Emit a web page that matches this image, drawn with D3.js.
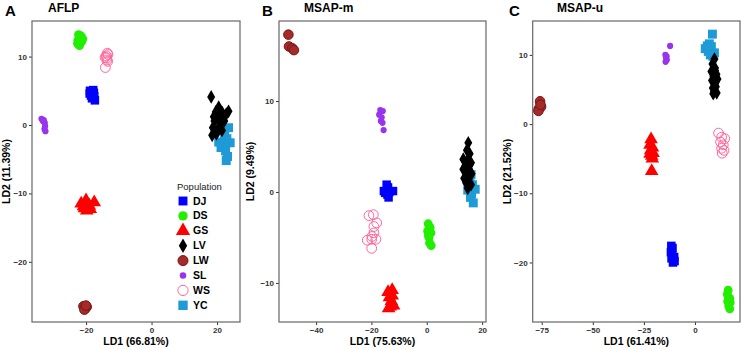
<!DOCTYPE html>
<html><head><meta charset="utf-8">
<script src="https://cdn.jsdelivr.net/npm/d3@7"></script>
<style>body{margin:0;background:#fff}svg{display:block}text{font-family:"Liberation Sans",Arial,sans-serif}</style>
</head><body><svg id="c" width="743" height="350"></svg>
<script>
// ---------- data ----------
const populations = ["DJ","DS","GS","LV","LW","SL","WS","YC"];
const panelLetters = ["A","B","C"];
const panelTitles = ["AFLP","MSAP-m","MSAP-u"];
const xTitles = ["LD1 (66.81%)","LD1 (75.63%)","LD1 (61.41%)"];
const yTitles = ["LD2 (11.39%)","LD2 (9.49%)","LD2 (21.52%)"];
const xTicksA = [-20,0,20], yTicksA = [-20,-10,0,10];
const xTicksB = [-40,-20,0,20], yTicksB = [-10,0,10];
const xTicksC = [-75,-50,-25,0], yTicksC = [-20,-10,0,10];

// AFLP
const aflpDJ = [[-18.8,5.0],[-17.8,5.1],[-18.5,4.3],[-17.5,4.2],[-17.3,3.6],[-18.2,3.9],[-17.6,4.7],[-18.9,4.6]];
const aflpDS = [[-22.3,13.2],[-21.5,13.0],[-22.5,12.4],[-21.3,12.2],[-22.0,11.6],[-21.0,12.6],[-22.6,11.9],[-21.8,12.8]];
const aflpGS = [[-21.5,-11.5],[-20.0,-11.0],[-19.5,-12.0],[-20.5,-12.2],[-17.5,-11.3],[-19.0,-11.8],[-20.8,-11.9],[-19.8,-12.5],[-18.7,-12.3]];
const aflpLV = [[18.2,4.1],[20.5,2.6],[21.6,1.8],[19.6,1.9],[22.8,1.6],[20.2,1.0],[21.0,0.4],[19.2,0.6],[22.2,0.6],[20.6,-0.3],[18.7,-0.4],[21.5,-0.8],[19.8,-1.3],[18.5,-1.5],[20.0,2.0],[21.2,1.3],[23.5,2.0],[19.0,1.2]];
const aflpLW = [[-20.8,-26.5],[-20.2,-26.8],[-19.8,-26.6],[-20.5,-27.0],[-20.0,-26.4]];
const aflpSL = [[-33.6,0.9],[-32.9,0.7],[-32.6,0.3],[-32.5,-0.2],[-32.7,-0.6],[-32.4,-0.9],[-33.2,0.6]];
const aflpWS = [[-13.5,10.5],[-13.8,10.1],[-14.2,9.9],[-13.6,9.5],[-13.4,9.3],[-14.1,8.4],[-13.7,9.8],[-13.3,10.3]];
const aflpYC = [[21.5,-0.2],[23.5,-0.4],[22.3,-1.5],[20.5,-2.5],[22.0,-2.8],[24.0,-2.6],[21.2,-3.3],[22.6,-3.8],[23.2,-4.6],[22.8,-5.2],[20.8,0.2],[23.0,-2.0]];

// MSAP-m
const mmDJ = [[-14.5,0.8],[-14.0,0.5],[-15.5,0.1],[-13.5,0.0],[-12.2,0.1],[-14.2,-0.3],[-13.8,-0.6],[-15.0,-0.1]];
const mmDS = [[0.5,-3.5],[1.2,-3.9],[0.3,-4.3],[1.5,-4.5],[0.8,-5.0],[1.0,-5.6],[1.6,-5.9],[0.6,-4.8]];
const mmGS = [[-14.0,-11.0],[-12.5,-10.8],[-13.5,-11.6],[-12.8,-12.0],[-13.2,-12.6],[-12.0,-12.5],[-13.8,-12.8],[-12.5,-11.4]];
const mmLV = [[15.0,5.4],[14.5,4.6],[15.5,4.2],[13.2,3.6],[14.5,3.4],[16.0,3.2],[13.8,2.8],[15.2,2.5],[14.0,2.2],[16.2,2.0],[13.5,1.5],[15.0,1.6],[14.2,1.0],[16.0,0.8],[14.8,0.4],[13.2,2.5],[15.5,3.0]];
const mmLW = [[-50.0,17.3],[-49.8,16.0],[-48.6,15.8],[-48.0,15.6]];
const mmSL = [[-16.8,9.0],[-15.9,8.9],[-17.2,8.5],[-16.3,8.2],[-16.6,7.8],[-16.0,7.6],[-15.6,6.8]];
const mmWS = [[-20.9,-2.6],[-19.3,-2.5],[-18.1,-3.4],[-19.1,-3.8],[-19.1,-4.5],[-18.4,-5.2],[-21.5,-5.3],[-19.9,-5.2],[-19.9,-6.2],[-19.8,-4.9]];
const mmYC = [[15.5,1.2],[16.5,0.8],[14.8,0.2],[16.2,-0.2],[17.5,0.3],[15.8,-0.6],[16.8,-1.2],[14.5,1.8],[16.0,1.9]];

// MSAP-u
const muDJ = [[-11.6,-17.6],[-11.0,-17.9],[-11.8,-18.5],[-11.2,-18.9],[-10.2,-19.2],[-11.5,-19.4],[-10.0,-19.8],[-10.8,-20.0]];
const muDS = [[16.2,-24.0],[15.8,-24.6],[17.0,-25.2],[16.0,-25.6],[17.2,-25.8],[16.5,-26.3],[17.0,-26.7],[16.3,-25.0]];
const muGS = [[-21.5,-2.2],[-22.0,-3.0],[-20.8,-3.4],[-21.7,-3.8],[-20.5,-4.2],[-21.2,-4.6],[-22.0,-4.3],[-20.9,-5.0],[-21.2,-6.8]];
const muLV = [[9.5,9.4],[8.5,8.7],[9.8,8.1],[8.0,7.6],[10.5,7.2],[9.0,6.9],[11.0,6.5],[8.3,6.3],[9.6,6.0],[10.2,5.4],[8.7,5.2],[9.3,4.7],[10.6,4.5],[8.9,4.4],[9.8,7.7],[10.0,6.0]];
const muLW = [[-75.8,3.3],[-76.4,2.2],[-75.3,2.5],[-76.6,1.9],[-75.6,2.8]];
const muSL = [[-12.2,11.3],[-14.5,10.0],[-14.2,9.6],[-13.8,9.3],[-14.4,9.0],[-13.9,9.8]];
const muWS = [[11.5,-1.3],[13.0,-1.9],[14.5,-2.1],[12.5,-2.6],[13.8,-3.0],[13.0,-3.5],[14.2,-3.8],[13.3,-4.2]];
const muYC = [[8.5,13.0],[5.0,10.9],[6.5,10.5],[8.0,11.2],[9.5,10.3],[7.0,11.6],[8.7,9.8],[6.0,11.3],[7.5,10.0]];

// ---------- styles ----------
const sty = {
  DJ:{type:d3.symbolSquare,size:72,fill:"#0000FF",stroke:"none"},
  DS:{type:d3.symbolCircle,size:62,fill:"#22EE00",stroke:"none"},
  GS:{type:d3.symbolTriangle,size:80,fill:"#FF0000",stroke:"none"},
  LV:{type:d3.symbolDiamond,size:55,fill:"#000000",stroke:"none"},
  LW:{type:d3.symbolCircle,size:72,fill:"#A52A2A",stroke:"#7A1515"},
  SL:{type:d3.symbolCircle,size:30,fill:"#9933EE",stroke:"none"},
  WS:{type:d3.symbolCircle,size:75,fill:"none",stroke:"#FF6699"},
  YC:{type:d3.symbolSquare,size:80,fill:"#1E9AD6",stroke:"none"}
};
const drawOrder = ["YC","DJ","DS","GS","LV","LW","SL","WS"];

const panels = [
  {data:{DJ:aflpDJ,DS:aflpDS,GS:aflpGS,LV:aflpLV,LW:aflpLW,SL:aflpSL,WS:aflpWS,YC:aflpYC},
   xd:[-36.5,27], yd:[-28.8,15.2], x0:32, x1:240, xt:xTicksA, yt:yTicksA, lx:5, tx:48, ylab:10},
  {data:{DJ:mmDJ,DS:mmDS,GS:mmGS,LV:mmLV,LW:mmLW,SL:mmSL,WS:mmWS,YC:mmYC},
   xd:[-53.4,21.4], yd:[-14.3,18.8], x0:279, x1:486, xt:xTicksB, yt:yTicksB, lx:262, tx:304, ylab:254},
  {data:{DJ:muDJ,DS:muDS,GS:muGS,LV:muLV,LW:muLW,SL:muSL,WS:muWS,YC:muYC},
   xd:[-79.4,22], yd:[-28.6,14.9], x0:532.7, x1:740, xt:xTicksC, yt:yTicksC, lx:509, tx:557, ylab:511}
];
const plotTop = 21, plotBottom = 322;
const svg = d3.select("#c");

panels.forEach((p,i)=>{
  const x = d3.scaleLinear().domain(p.xd).range([p.x0,p.x1]);
  const y = d3.scaleLinear().domain(p.yd).range([plotBottom,plotTop]);
  const g = svg.append("g");
  const ax = g.append("g").attr("transform",`translate(0,${plotBottom})`)
    .call(d3.axisBottom(x).tickValues(p.xt).tickSize(3).tickPadding(2).tickFormat(d3.format("d")));
  const ay = g.append("g").attr("transform",`translate(${p.x0},0)`)
    .call(d3.axisLeft(y).tickValues(p.yt).tickSize(3).tickPadding(2).tickFormat(d3.format("d")));
  [ax,ay].forEach(a=>{
    a.select(".domain").remove();
    a.selectAll(".tick line").attr("stroke","#333");
    a.selectAll(".tick text").attr("fill","#333").style("font-size","8px").style("font-weight","bold")
      .style("font-family","'Liberation Sans',Arial,sans-serif");
  });
  g.append("rect").attr("x",p.x0).attr("y",plotTop).attr("width",p.x1-p.x0).attr("height",plotBottom-plotTop)
    .attr("fill","none").attr("stroke","#666").attr("stroke-width",1.2);
  drawOrder.forEach(pop=>{
    const s = sty[pop];
    g.append("g").selectAll("path").data(p.data[pop]).join("path")
      .attr("d",d3.symbol().type(s.type).size(s.size))
      .attr("transform",d=>`translate(${x(d[0])},${y(d[1])})`)
      .attr("fill",s.fill).attr("stroke",s.stroke).attr("stroke-width",1);
  });
  g.append("text").attr("x",p.lx).attr("y",16).text(panelLetters[i])
    .style("font-size","15px").style("font-weight","bold");
  g.append("text").attr("x",p.tx).attr("y",12).text(panelTitles[i])
    .style("font-size","12px").style("font-weight","bold");
  g.append("text").attr("x",(p.x0+p.x1)/2).attr("y",345).attr("text-anchor","middle")
    .text(xTitles[i]).style("font-size","10.5px").style("font-weight","bold");
  g.append("text").attr("transform",`translate(${p.ylab},${(plotTop+plotBottom)/2}) rotate(-90)`)
    .attr("text-anchor","middle").text(yTitles[i]).style("font-size","10.5px").style("font-weight","bold");
});

const lg = svg.append("g");
lg.append("text").attr("x",177).attr("y",190).text("Population").style("font-size","9.5px").attr("fill","#222");
populations.forEach((pop,k)=>{
  const s = sty[pop];
  const cy = 201 + k*14.9;
  lg.append("path").attr("d",d3.symbol().type(s.type).size(s.size*1.1))
    .attr("transform",`translate(183,${cy})`).attr("fill",s.fill).attr("stroke",s.stroke).attr("stroke-width",1);
  lg.append("text").attr("x",193).attr("y",cy+3.5).text(pop).style("font-size","10.5px").style("font-weight","bold");
});
</script></body></html>
